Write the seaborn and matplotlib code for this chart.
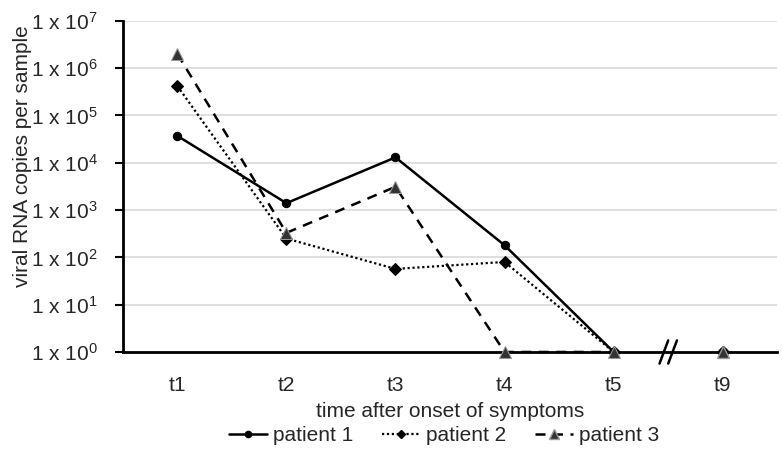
#viral load over time for three patients
import numpy as np
import pandas as pd
import seaborn as sns
import matplotlib.pyplot as plt

#data
times = ["t1", "t2", "t3", "t4", "t5", "t9"]
patient_1 = [3.7e4, 1.4e3, 1.3e4, 180, 1, 1]
patient_2 = [4.2e5, 250, 57, 80, 1, 1]
patient_3 = [2.0e6, 330, 3.1e3, 1, 1, 1]
patients = ["patient 1", "patient 2", "patient 3"]

sns.set_style("white")
plt.rcParams["font.family"] = ["Liberation Sans", "DejaVu Sans"]
plt.rcParams["mathtext.fontset"] = "custom"
plt.rcParams["mathtext.rm"] = "Liberation Sans"
plt.rcParams["mathtext.default"] = "regular"

rows = []
for name, vals in zip(patients, [patient_1, patient_2, patient_3]):
    for i, (t, v) in enumerate(zip(times, vals)):
        rows.append({"patient": name, "pos": i, "time": t, "copies": v})
df = pd.DataFrame(rows)

styles = {
    "patient 1": dict(ls="-", marker="o", ms=6, mfc="black", mec="black", lw=1.8),
    "patient 2": dict(ls=(0, (1, 1.2)), marker="D", ms=6, mfc="black", mec="black", lw=1.6),
    "patient 3": dict(ls=(0, (4, 3)), marker="^", ms=8, mfc="#333333", mec="#999999", lw=1.8),
}

fig = plt.figure(figsize=(7.82, 4.53), dpi=100)
ax = fig.add_axes([0.157, 0.223, 0.837, 0.731])

handles = []
for name in patients:
    d = df[df["patient"] == name]
    st = styles[name]
    #line only through t1..t5, t9 is after the axis break
    main = d[d["pos"] <= 4]
    sns.lineplot(data=main, x="pos", y="copies", ax=ax, color="black",
                 linestyle=st["ls"], linewidth=st["lw"], marker=st["marker"],
                 markersize=st["ms"], markerfacecolor=st["mfc"],
                 markeredgecolor=st["mec"], clip_on=False, zorder=3, legend=False)
    late = d[d["pos"] > 4]
    ax.plot(late["pos"], late["copies"], ls="none", marker=st["marker"],
            ms=st["ms"], mfc=st["mfc"], mec=st["mec"], clip_on=False, zorder=3)
    h, = ax.plot([], [], color="black", ls=st["ls"], lw=st["lw"], marker=st["marker"],
                 ms=st["ms"] - 1.5, mfc=st["mfc"], mec=st["mec"])
    handles.append(h)
if ax.get_legend() is not None:
    ax.get_legend().remove()

ax.set_yscale("log")
ax.set_ylim(1, 1e7)
ax.set_xlim(-0.5, len(times) - 0.5)
ax.set_xticks(range(len(times)))
ax.set_xticklabels(times)
decades = np.arange(0, 8)
ax.set_yticks(10.0 ** decades)
ax.set_yticklabels([r"1 x 10$^{%d}$" % p for p in decades])
ax.minorticks_off()
ax.yaxis.grid(True, color="#d9d9d9", lw=1.2)
ax.set_axisbelow(True)

ax.tick_params(axis="y", which="major", direction="out", length=6, width=1.5,
               color="black", labelsize=15, pad=12, left=True)
ax.tick_params(axis="x", length=0, labelsize=15, pad=17)
for s in ["top", "right"]:
    ax.spines[s].set_visible(False)
for s in ["left", "bottom"]:
    ax.spines[s].set_color("black")
    ax.spines[s].set_linewidth(2)
    ax.spines[s].set_zorder(2)

ax.set_xlabel("time after onset of symptoms", fontsize=15, labelpad=5)
ax.set_ylabel("viral RNA copies per sample", fontsize=15)
ax.yaxis.set_label_coords(-0.138, 0.59)
ax.set_title("")

#axis break mark between t5 and t9
trans = ax.get_xaxis_transform()
for dx in (-0.04, 0.04):
    ax.plot([4.5 + dx - 0.04, 4.5 + dx + 0.04], [-0.035, 0.035], transform=trans,
            color="black", lw=1.8, clip_on=False, zorder=4)

fig.legend(handles=handles, labels=patients, loc="center", bbox_to_anchor=(0.568, 0.038),
           ncol=3, frameon=False, fontsize=15, handlelength=1.8, columnspacing=1.4,
           handletextpad=0.3)

fig.savefig("out.png", dpi=100)
